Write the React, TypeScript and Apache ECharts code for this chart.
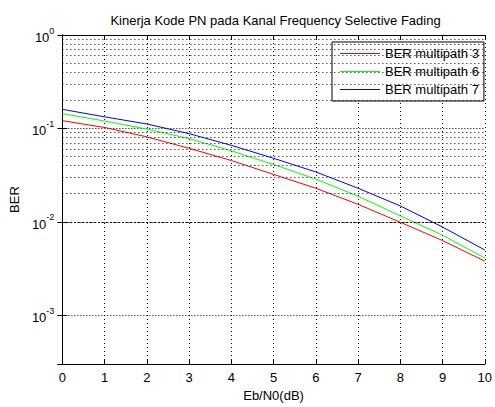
import React, { useEffect, useRef } from "react";
import * as echarts from "echarts";

const ebn0 = [0, 1, 2, 3, 4, 5, 6, 7, 8, 9, 10];
const berMultipath3 = [0.121, 0.1024, 0.0812, 0.0613, 0.0453, 0.0322, 0.0229, 0.0154, 0.0099, 0.0063, 0.0038];
const berMultipath6 = [0.144, 0.12, 0.0984, 0.0779, 0.0576, 0.041, 0.0287, 0.0188, 0.0116, 0.0072, 0.0041];
const berMultipath7 = [0.16, 0.133, 0.1116, 0.0879, 0.0659, 0.0479, 0.0342, 0.0229, 0.0148, 0.0088, 0.005];
const seriesNames = ["BER multipath 3", "BER multipath 6", "BER multipath 7"];
const seriesColors = ["#ff0000", "#00ff00", "#0000ff"];
const yMin = 3e-4;
const yMax = 1;
const decades = [-4, -3, -2, -1];
const mantissas = [2, 3, 4, 5, 6, 7, 8, 9];

const FONT = "'Liberation Sans', Arial, Helvetica, sans-serif";

// legend layout
const LEG_LEFT = 332;
const LEG_TOP = 42;
const LEG_PAD = [4, 5, 4, 8];
const LEG_ITEM_H = 15;
const LEG_GAP = 3;
const LEG_ICON_W = 40;

export default function App() {
  const ref = useRef<HTMLDivElement>(null);
  useEffect(() => {
    if (!ref.current) return;
    const chart = echarts.init(ref.current, undefined, { renderer: "svg" });
    const minorVals: number[] = [];
    decades.forEach((d) =>
      mantissas.forEach((m) => {
        const v = m * Math.pow(10, d);
        if (v > yMin * 1.0001 && v < yMax) minorVals.push(v);
      })
    );
    const dotted = { color: "#000", width: 1, type: [1, 3] as any };
    const yLabelFmt = (v: number) => {
      const l = Math.log10(v);
      if (Math.abs(l - Math.round(l)) > 1e-6) return "";
      return "{b|10}{s|" + Math.round(l) + "}";
    };
    const datasets = [berMultipath3, berMultipath6, berMultipath7];
    const legendLines = seriesNames.map((_, i) => {
      const y = Math.floor(LEG_TOP + LEG_PAD[0] + LEG_ITEM_H / 2 + i * (LEG_ITEM_H + LEG_GAP)) + 0.5;
      const x1 = LEG_LEFT + LEG_PAD[3];
      return {
        type: "line",
        z: 100,
        silent: true,
        shape: { x1, y1: y, x2: x1 + LEG_ICON_W, y2: y },
        style: { stroke: seriesColors[i], lineWidth: 1 },
      };
    });
    const option: any = {
      animation: false,
      backgroundColor: "#fff",
      color: seriesColors,
      textStyle: { fontFamily: FONT },
      grid: { left: 62, right: 6, top: 35, bottom: 36, show: false },
      graphic: [
        {
          type: "text",
          x: 275.5,
          y: 20,
          style: {
            text: "Kinerja Kode PN pada Kanal Frequency Selective Fading",
            fontSize: 13,
            fontFamily: FONT,
            fill: "#000",
            textAlign: "center",
            textVerticalAlign: "middle",
          },
        },
        ...legendLines,
      ],
      legend: {
        data: seriesNames,
        orient: "vertical",
        left: LEG_LEFT,
        top: LEG_TOP,
        padding: LEG_PAD,
        itemGap: LEG_GAP,
        itemWidth: LEG_ICON_W,
        itemHeight: LEG_ITEM_H,
        icon: "rect",
        itemStyle: { opacity: 0 },
        selectedMode: false,
        backgroundColor: "#fff",
        borderColor: "#000",
        borderWidth: 1,
        borderRadius: 0,
        textStyle: { fontSize: 13, color: "#000", fontFamily: FONT, lineHeight: 15 },
      },
      xAxis: [
        {
          type: "value",
          min: 0,
          max: 10,
          interval: 1,
          name: "Eb/N0(dB)",
          nameLocation: "middle",
          nameGap: 21,
          nameTextStyle: { fontSize: 13, color: "#000", fontFamily: FONT },
          axisLine: { show: true, lineStyle: { color: "#000", width: 1 } },
          axisTick: { show: true, inside: true, length: 5, lineStyle: { color: "#000" } },
          axisLabel: { fontSize: 13, color: "#000", margin: 7, fontFamily: FONT },
          splitLine: { show: true, lineStyle: dotted },
        },
        {
          type: "value",
          position: "top",
          min: 0,
          max: 10,
          interval: 1,
          axisLine: { show: true, lineStyle: { color: "#000", width: 1 } },
          axisTick: { show: true, inside: true, length: 5, lineStyle: { color: "#000" } },
          axisLabel: { show: false },
          splitLine: { show: false },
        },
      ],
      yAxis: [
        {
          type: "log",
          logBase: 10,
          min: yMin,
          max: yMax,
          name: "BER",
          nameLocation: "middle",
          nameGap: 27,
          nameTextStyle: { fontSize: 13, color: "#000", fontFamily: FONT },
          axisLine: { show: true, lineStyle: { color: "#000", width: 1 } },
          axisTick: { show: true, inside: true, length: 5, lineStyle: { color: "#000" } },
          axisLabel: {
            margin: 8,
            formatter: yLabelFmt,
            rich: {
              b: { fontSize: 13, color: "#000", fontFamily: FONT, lineHeight: 18, verticalAlign: "bottom" },
              s: { fontSize: 9, color: "#000", fontFamily: FONT, lineHeight: 10, verticalAlign: "top" },
            },
          },
          splitLine: { show: true, lineStyle: { color: "#000", width: 1, type: [1, 2] } },
        },
        {
          type: "log",
          logBase: 10,
          min: yMin,
          max: yMax,
          position: "right",
          axisLine: { show: true, lineStyle: { color: "#000", width: 1 } },
          axisTick: { show: true, inside: true, length: 5, lineStyle: { color: "#000" } },
          axisLabel: { show: false },
          splitLine: { show: false },
        },
      ],
      series: [
        ...datasets.map((arr, i) => ({
          type: "line",
          name: seriesNames[i],
          data: ebn0.map((x, j) => [x, arr[j]]),
          showSymbol: false,
          symbol: "none",
          lineStyle: { color: seriesColors[i], width: 1 },
          itemStyle: { color: seriesColors[i] },
          z: 3,
        })),
        {
          type: "line",
          name: "__grid",
          data: [],
          silent: true,
          markLine: {
            silent: true,
            symbol: "none",
            label: { show: false },
            lineStyle: dotted,
            data: minorVals.map((v) => ({ yAxis: v })),
          },
        },
      ],
    };
    chart.setOption(option);
    return () => chart.dispose();
  }, []);
  return <div ref={ref} style={{ width: 495, height: 407, position: "absolute", left: 0, top: 0 }} />;
}
